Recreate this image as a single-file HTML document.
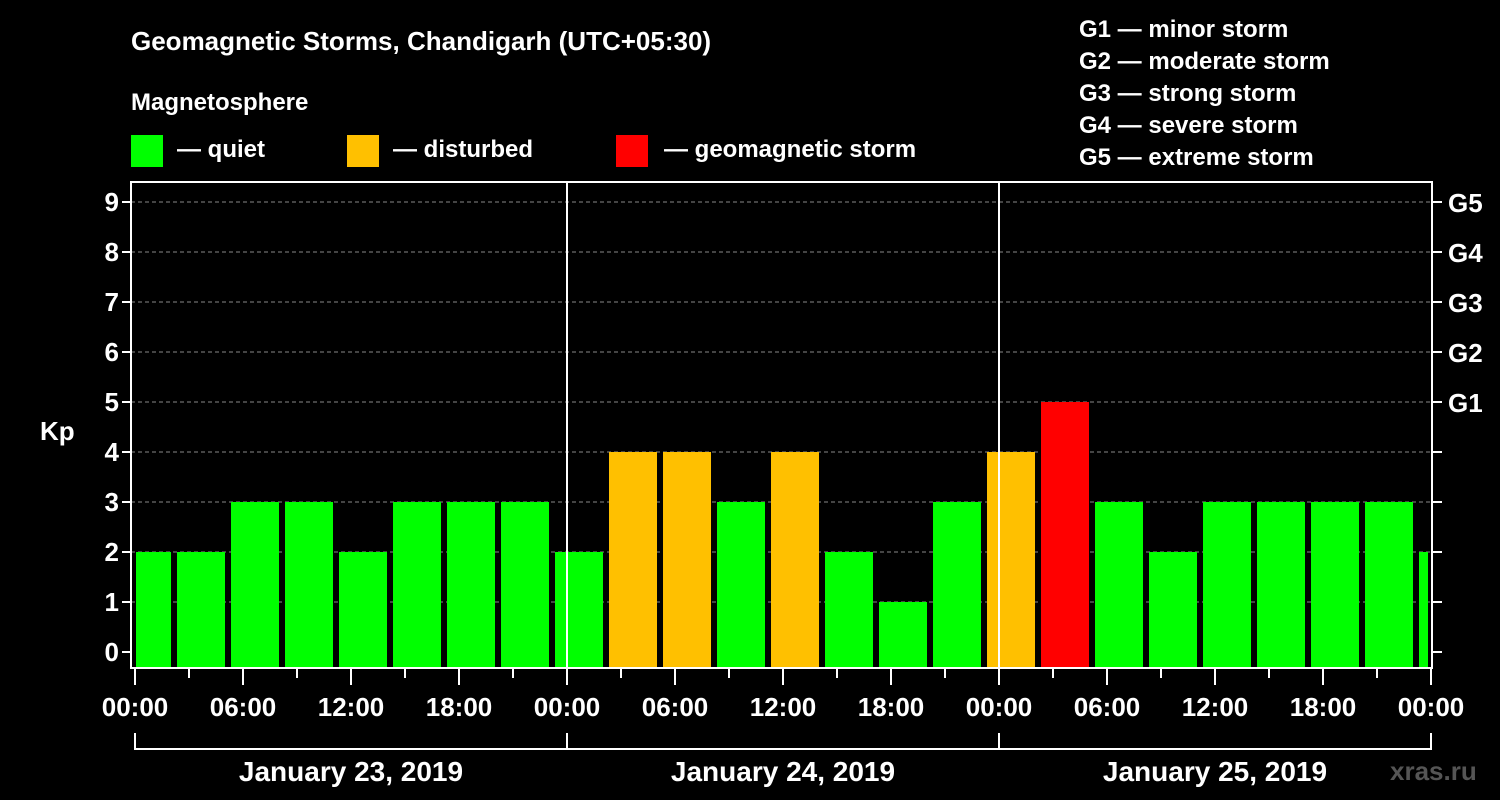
<!DOCTYPE html>
<html><head><meta charset="utf-8"><style>
body{margin:0;background:#000;width:1500px;height:800px;overflow:hidden}
svg{display:block;font-family:"Liberation Sans",sans-serif;font-weight:bold}
</style></head><body>
<svg id="c" width="1500" height="800">
<rect width="1500" height="800" fill="#000"/>
<text x="131" y="50" fill="#fff" font-size="26">Geomagnetic Storms, Chandigarh (UTC+05:30)</text>
<text x="131" y="110" fill="#fff" font-size="24">Magnetosphere</text>
<g><rect x="131" y="135" width="32" height="32" fill="#00ff00"/><text x="177" y="157" fill="#fff" font-size="24">— quiet</text></g>
<g><rect x="347" y="135" width="32" height="32" fill="#ffc000"/><text x="393" y="157" fill="#fff" font-size="24">— disturbed</text></g>
<g><rect x="616" y="135" width="32" height="32" fill="#ff0000"/><text x="664" y="157" fill="#fff" font-size="24">— geomagnetic storm</text></g>
<g fill="#fff" font-size="24">
<text x="1079" y="37">G1 — minor storm</text>
<text x="1079" y="69">G2 — moderate storm</text>
<text x="1079" y="101">G3 — strong storm</text>
<text x="1079" y="133">G4 — severe storm</text>
<text x="1079" y="165">G5 — extreme storm</text>
</g>
<text x="40" y="440" fill="#fff" font-size="26">Kp</text>
<text x="1390" y="780" fill="#555" font-size="26">xras.ru</text>
<g id="plot"></g>
</svg>
<script>
const values=[2,2,3,3,2,3,3,3,2,4,4,3,4,2,1,3,4,5,3,2,3,3,3,3,2];
const yTicks=[0,1,2,3,4,5,6,7,8,9];
const gLabels=["G1","G2","G3","G4","G5"];
const xLabels=["00:00","06:00","12:00","18:00","00:00","06:00","12:00","18:00","00:00","06:00","12:00","18:00","00:00"];
const days=["January 23, 2019","January 24, 2019","January 25, 2019"];
const NS="http://www.w3.org/2000/svg",p=document.getElementById('plot');
const L=131,R=1432,T=182,B=668,X0=135;
const y=v=>652-50*v, x=h=>X0+18*h;
function mk(t,a,txt){const e=document.createElementNS(NS,t);for(const k in a)e.setAttribute(k,a[k]);if(txt!=null)e.textContent=txt;p.appendChild(e);return e;}
yTicks.forEach(v=>{
 if(v>0){const g=mk('line',{x1:L,x2:R,y1:y(v),y2:y(v),stroke:'#888','stroke-dasharray':'4,3'});
 
 }
 mk('line',{x1:L-9,x2:L,y1:y(v),y2:y(v),stroke:'#fff','stroke-width':2});
 mk('line',{x1:R,x2:R+10,y1:y(v),y2:y(v),stroke:'#fff','stroke-width':2});
 const t=mk('text',{x:L-12,y:y(v)+9,fill:'#fff','font-size':26,'text-anchor':'end'},v);
 
 
});
gLabels.forEach((g,i)=>{const t=mk('text',{x:1448,y:y(5+i)+10,fill:'#fff','font-size':26},g);
 
 });
values.forEach((v,i)=>{
 const s0=x(-0.833+3*i)+3, e0=x(-0.833+3*i+3)-3;
 const s=Math.max(s0,136), e=Math.min(e0,1428);
 const c=v>=5?'#ff0000':v>=4?'#ffc000':'#00ff00';
 const r=mk('rect',{x:s,y:y(v),width:e-s,height:B-1-y(v),fill:c});
 
 
});
[1,2].forEach(d=>mk('line',{x1:x(24*d),x2:x(24*d),y1:T,y2:B,stroke:'#fff','stroke-width':2}));
mk('rect',{x:L,y:T,width:R-L,height:B-T,fill:'none',stroke:'#fff','stroke-width':2});
for(let h=0;h<=72;h+=3){mk('line',{x1:x(h),x2:x(h),y1:B,y2:B+(h%6==0?17:10),stroke:'#fff','stroke-width':2});}
xLabels.forEach((l,i)=>{const t=mk('text',{x:x(6*i),y:716,fill:'#fff','font-size':26,'text-anchor':'middle'},l);
 
 });
mk('line',{x1:x(0),x2:x(72),y1:749,y2:749,stroke:'#fff','stroke-width':2});
[0,1,2,3].forEach(d=>mk('line',{x1:x(24*d),x2:x(24*d),y1:733,y2:750,stroke:'#fff','stroke-width':2}));
days.forEach((d,i)=>{const t=mk('text',{x:x(24*i+12),y:781,fill:'#fff','font-size':28,'text-anchor':'middle'},d);
 
 });
</script>
</body></html>
